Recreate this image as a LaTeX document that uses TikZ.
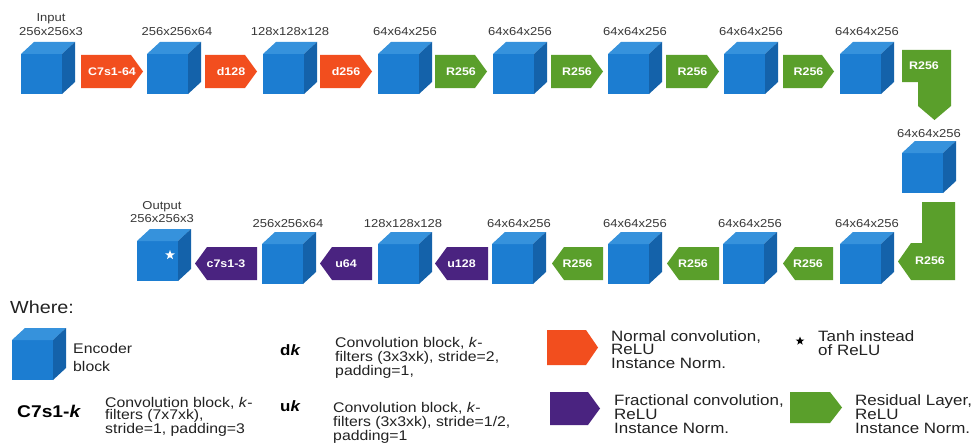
\documentclass[tikz,border=0pt]{standalone}
\usepackage{fontspec}
\setmainfont[FakeStretch=1.13]{Liberation Sans}
\usetikzlibrary{shapes.geometric}
\definecolor{cubefrontc}{HTML}{1C7DD1}
\definecolor{cubetopc}{HTML}{3692DC}
\definecolor{cubesidec}{HTML}{1462AA}
\definecolor{orangec}{HTML}{F24E1E}
\definecolor{greenc}{HTML}{5A9F2B}
\definecolor{purplec}{HTML}{4A2380}
\definecolor{labelgray}{HTML}{383838}
\definecolor{legendgray}{HTML}{222222}
\tikzset{
  cubefront/.style={fill=cubefrontc, draw=none, minimum width=41pt, minimum height=40pt, inner sep=0pt, outer sep=0pt, anchor=north west},
  dimlbl/.style={font=\fontsize{11.5}{13}\selectfont, text=labelgray, anchor=base, inner sep=0pt},
  arrlbl/.style={font=\bfseries\fontsize{11}{13}\selectfont, text=white, inner sep=0pt},
  legtxt/.style={align=left, anchor=north west, inner sep=0pt, text=legendgray},
  legsym/.style={anchor=base west, inner sep=0pt, text=black, font=\bfseries\fontsize{15}{17}\selectfont},
  starsym/.style={star, star points=5, star point ratio=2.4, inner sep=0pt, minimum size=10pt, draw=none},
}
\newcommand{\cubeblk}[3]{%
  \node[cubefront] (#1) at (#2,#3) {};
  \fill[cubetopc] (#1.north west) -- ++(13,-12) -- ++(41,0) -- (#1.north east) -- cycle;
  \fill[cubesidec] (#1.north east) -- ++(13,-12) -- ++(0,40) -- (#1.south east) -- cycle;
}
\newcommand{\arrR}[7]{%
  \fill[#6] (#2,#4) -- ({#3-12},#4) -- (#3,{(#4+#5)/2}) -- ({#3-12},#5) -- (#2,#5) -- cycle;
  \node[arrlbl] (#1) at ({(#2+#3)/2},{(#4+#5)/2}) {#7};
}
\newcommand{\arrL}[7]{%
  \fill[#6] (#2,{(#4+#5)/2}) -- ({#2+12},#4) -- (#3,#4) -- (#3,#5) -- ({#2+12},#5) -- cycle;
  \node[arrlbl] (#1) at ({(#2+#3)/2},{(#4+#5)/2}) {#7};
}
\begin{document}
\begin{tikzpicture}[x=1pt,y=-1pt]
\useasboundingbox[fill=white] (0,0) rectangle (973,444);
% ---------- top row ----------
\cubeblk{c1}{21}{54}
\cubeblk{c2}{147}{54}
\cubeblk{c3}{263}{54}
\cubeblk{c4}{378}{54}
\cubeblk{c5}{493}{54}
\cubeblk{c6}{608}{54}
\cubeblk{c7}{724}{54}
\cubeblk{c8}{840}{54}
\node[dimlbl] (l1a) at (51,22) {Input};
\node[dimlbl] (l1) at (51,35.5) {256x256x3};
\node[dimlbl] (l2) at (177,35.5) {256x256x64};
\node[dimlbl] (l3) at (290,35.5) {128x128x128};
\node[dimlbl] (l4) at (405,35.5) {64x64x256};
\node[dimlbl] (l5) at (520,35.5) {64x64x256};
\node[dimlbl] (l6) at (635,35.5) {64x64x256};
\node[dimlbl] (l7) at (751,35.5) {64x64x256};
\node[dimlbl] (l8) at (867,35.5) {64x64x256};
\arrR{a1}{81}{143}{55}{88}{orangec}{C7s1-64}
\arrR{a2}{205}{257}{55}{88}{orangec}{d128}
\arrR{a3}{320}{372}{55}{88}{orangec}{d256}
\arrR{a4}{435}{487}{55}{88}{greenc}{R256}
\arrR{a5}{551}{603}{55}{88}{greenc}{R256}
\arrR{a6}{666}{719}{55}{88}{greenc}{R256}
\arrR{a7}{783}{834}{55}{88}{greenc}{R256}
% ---------- corner 1 ----------
\fill[greenc] (902,50) -- (951,50) -- (951,106) -- (934.5,120) -- (918,106) -- (918,82) -- (902,82) -- cycle;
\node[arrlbl] (a8) at (924,66) {R256};
% ---------- right column cube ----------
\cubeblk{c9}{902}{153}
\node[dimlbl] (l9) at (929,137) {64x64x256};
% ---------- corner 2 ----------
\fill[greenc] (922,202) -- (955,202) -- (955,280) -- (911,280) -- (898,261.5) -- (911,243) -- (922,243) -- cycle;
\node[arrlbl] (a9) at (930,261) {R256};
% ---------- bottom row ----------
\cubeblk{c10}{840}{244}
\cubeblk{c11}{723}{244}
\cubeblk{c12}{608}{244}
\cubeblk{c13}{492}{244}
\cubeblk{c14}{378}{244}
\cubeblk{c15}{262}{244}
\cubeblk{c16}{137}{241}
\node[dimlbl] (l10) at (867,227) {64x64x256};
\node[dimlbl] (l11) at (750,227) {64x64x256};
\node[dimlbl] (l12) at (635,227) {64x64x256};
\node[dimlbl] (l13) at (519,227) {64x64x256};
\node[dimlbl] (l14) at (403,227) {128x128x128};
\node[dimlbl] (l15) at (288,227) {256x256x64};
\node[dimlbl] (l16a) at (162,209) {Output};
\node[dimlbl] (l16) at (162,222) {256x256x3};
\node[starsym, fill=white] (outstar) at (170,255) {};
\arrL{b1}{783}{833}{247}{280}{greenc}{R256}
\arrL{b2}{667}{719}{247}{280}{greenc}{R256}
\arrL{b3}{552}{603}{247}{280}{greenc}{R256}
\arrL{b4}{435}{488}{247}{280}{purplec}{u128}
\arrL{b5}{320}{372}{247}{280}{purplec}{u64}
\arrL{b6}{195}{257}{247}{280}{purplec}{c7s1-3}
% ---------- legend ----------
\node[anchor=base west, inner sep=0pt, text=legendgray, font=\fontsize{17.5}{20}\selectfont] (where) at (10,313) {Where:};
\cubeblk{lc}{12}{340}
\node[legtxt, font=\fontsize{14}{18}\selectfont] (lct) at (73,343) {Encoder\\block};
\node[legsym, font=\bfseries\fontsize{17}{19}\selectfont] (lcs) at (17,417) {C7s1-\textit{k}};
\node[legtxt, font=\fontsize{14}{12.5}\selectfont] (lcst) at (105,397) {Convolution block, \textit{k}-\\filters (7x7xk),\\stride=1, padding=3};
\node[legsym] (lds) at (280,355) {d\textit{k}};
\node[legtxt, font=\fontsize{14}{14}\selectfont] (ldt) at (335,337) {Convolution block, \textit{k}-\\filters (3x3xk), stride=2,\\padding=1,};
\node[legsym] (lus) at (280,411) {u\textit{k}};
\node[legtxt, font=\fontsize{14}{14}\selectfont] (lut) at (333,402) {Convolution block, \textit{k}-\\filters (3x3xk), stride=1/2,\\padding=1};
\arrR{lo}{547}{598}{330}{365}{orangec}{}
\node[legtxt, font=\fontsize{15}{13.5}\selectfont] (lot) at (611,330) {Normal convolution,\\ReLU\\Instance Norm.};
\arrR{lp}{550}{600}{392}{425}{purplec}{}
\node[legtxt, font=\fontsize{15}{14}\selectfont] (lpt) at (614,394) {Fractional convolution,\\ReLU\\Instance Norm.};
\arrR{lg}{790}{842}{392}{423}{greenc}{}
\node[legtxt, font=\fontsize{15}{14}\selectfont] (lgt) at (855,394) {Residual Layer,\\ReLU\\Instance Norm.};
\node[starsym, fill=black, minimum size=9pt] (lstar) at (800,341) {};
\node[legtxt, font=\fontsize{15}{14}\selectfont] (lst) at (818,330) {Tanh instead\\of ReLU};
\end{tikzpicture}
\end{document}
